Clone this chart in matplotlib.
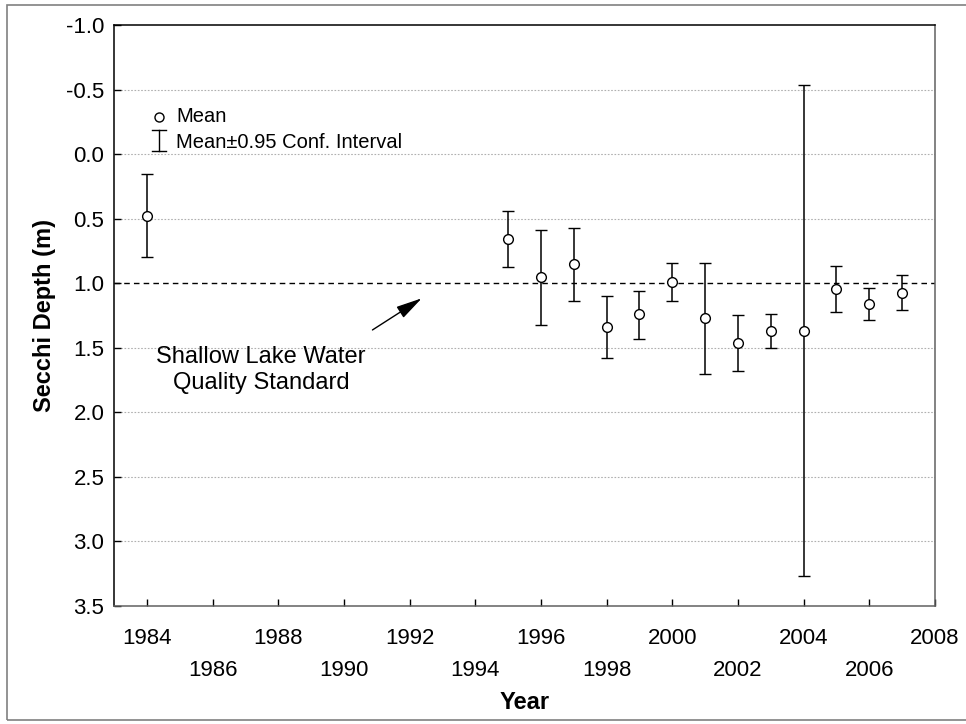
import numpy as np
import matplotlib.pyplot as plt
from matplotlib.patches import Rectangle
from matplotlib.ticker import FixedLocator, FixedFormatter

plt.rcParams["font.family"] = ["Liberation Sans", "DejaVu Sans"]

# Secchi depth means with 95% confidence limits
years = [1984, 1995, 1996, 1997, 1998, 1999, 2000, 2001, 2002, 2003, 2004, 2005, 2006, 2007]
mean = [0.48, 0.656, 0.948, 0.852, 1.339, 1.241, 0.993, 1.267, 1.46, 1.372, 1.372, 1.045, 1.161, 1.074]
ci_low = [0.155, 0.44, 0.59, 0.57, 1.097, 1.06, 0.841, 0.841, 1.244, 1.236, -0.535, 0.869, 1.039, 0.939]
ci_high = [0.797, 0.875, 1.321, 1.139, 1.581, 1.429, 1.138, 1.70, 1.677, 1.501, 3.27, 1.223, 1.282, 1.205]

standard = 1.0
y_ticks = [-1.0, -0.5, 0.0, 0.5, 1.0, 1.5, 2.0, 2.5, 3.0, 3.5]
x_top = [1984, 1988, 1992, 1996, 2000, 2004, 2008]
x_bottom = [1986, 1990, 1994, 1998, 2002, 2006]

fig = plt.figure(figsize=(9.66, 7.24), dpi=100)
ax = fig.add_axes([114 / 966, 1 - 606 / 724, (935 - 114) / 966, (606 - 25) / 724])

# outer frame round the whole figure
fig.patches.append(Rectangle((7 / 966, 4 / 724), 1, 1 - 9 / 724, transform=fig.transFigure,
                             fill=False, edgecolor="#808080", lw=1.2))

m = np.array(mean)
err = [m - np.array(ci_low), np.array(ci_high) - m]
ax.errorbar(years, mean, yerr=err, fmt="o", color="black", mfc="white", mec="black",
            ms=7, mew=1, elinewidth=1.1, capsize=4, capthick=1.1, zorder=3)

ax.axhline(standard, color="black", ls=(0, (4, 3)), lw=1, zorder=2)
for v in y_ticks:
    if v not in (-1.0, standard, 3.5):
        ax.axhline(v, color="#b0b0b0", ls=(0, (1.5, 1.5)), lw=0.8, zorder=1)

ax.set_xlim(1983, 2008)
ax.set_ylim(3.5, -1.0)
ax.set_yticks(y_ticks)
ax.set_yticklabels([f"{v:.1f}" for v in y_ticks])

ax.xaxis.set_major_locator(FixedLocator(x_top))
ax.xaxis.set_major_formatter(FixedFormatter([str(y) for y in x_top]))
ax.xaxis.set_minor_locator(FixedLocator(x_bottom))
ax.xaxis.set_minor_formatter(FixedFormatter([str(y) for y in x_bottom]))
ax.tick_params(axis="both", which="both", direction="in", length=5, width=1, labelsize=16)
ax.tick_params(axis="y", pad=7)
ax.tick_params(axis="x", which="major", pad=16)
ax.tick_params(axis="x", which="minor", pad=39)

for s in ax.spines.values():
    s.set_linewidth(1.1)
ax.spines["right"].set_color("#606060")
ax.spines["bottom"].set_color("#606060")

ax.set_xlabel("Year", fontsize=17, fontweight="bold", labelpad=7)
ax.set_ylabel("Secchi Depth (m)", fontsize=17, fontweight="bold", labelpad=7)

# legend key drawn by hand in axes fractions
ta = ax.transAxes
ax.plot([0.0548], [0.8417], "o", mfc="white", mec="black", ms=6.5, mew=1, transform=ta, clip_on=False)
ax.text(0.0755, 0.8417, "Mean", transform=ta, va="center", ha="left", fontsize=14.5)
ax.plot([0.0548, 0.0548], [0.7831, 0.8193], color="black", lw=1, transform=ta)
for yc in (0.7831, 0.8193):
    ax.plot([0.0548 - 0.0091, 0.0548 + 0.0091], [yc, yc], color="black", lw=1, transform=ta)
ax.text(0.0755, 0.7986, "Mean\u00b10.95 Conf. Interval", transform=ta, va="center", ha="left",
        fontsize=14.5)

ax.text(1987.48, 1.671, "Shallow Lake Water\nQuality Standard", ha="center", va="center",
        fontsize=17, linespacing=1.2)
ax.annotate("", xy=(1992.37, 1.117), xytext=(1990.87, 1.362),
            arrowprops=dict(arrowstyle="-|>,head_length=1.0,head_width=0.25", color="black",
                            lw=1, mutation_scale=16, shrinkA=0, shrinkB=0))

fig.savefig("out.png", dpi=100)
